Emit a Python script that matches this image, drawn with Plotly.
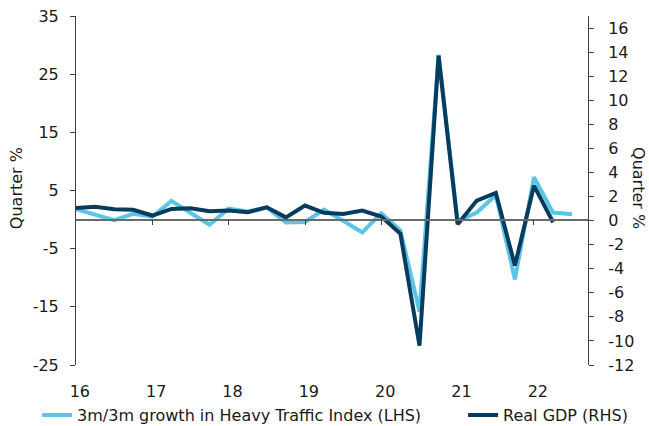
import plotly.graph_objects as go

# quarter index (one point per quarter, first point = start of "16")
quarter_index = list(range(27))

# 3m/3m growth in Heavy Traffic Index (LHS), %
traffic = [1.8, 0.9, -0.1, 1.0, 0.5, 3.2, 1.2, -0.9, 1.9, 1.4, 2.1, -0.5, -0.4,
           1.7, -0.2, -2.2, 1.1, -1.9, -15.8, 28.3, -0.3, 1.2, 4.2, -10.3, 7.3,
           1.2, 0.9]

# Real GDP q/q (RHS), %
gdp = [1.05, 1.15, 0.95, 0.9, 0.42, 0.97, 1.02, 0.77, 0.83, 0.7, 1.1, 0.27,
       1.25, 0.65, 0.55, 0.83, 0.33, -1.1, -10.4, 13.7, -0.3, 1.66, 2.3, -3.74,
       2.9, -0.14]

year_ticks = [0, 4, 8, 12, 16, 20, 24]
year_labels = ["16", "17", "18", "19", "20", "21", "22"]

left_ticks = [-25, -15, -5, 5, 15, 25, 35]
right_ticks = list(range(-12, 17, 2))

LIGHT = "#5BC5E8"
DARK = "#073C5F"
AX = "#404040"
FONT = "DejaVu Sans"
xrange = [0, 26.83]

fig = go.Figure()
fig.add_trace(go.Scatter(x=quarter_index[:len(traffic)], y=traffic, mode="lines",
                         name="3m/3m growth in Heavy Traffic Index (LHS)",
                         line=dict(color=LIGHT, width=4), xaxis="x", yaxis="y",
                         legend="legend"))
fig.add_trace(go.Scatter(x=quarter_index[:len(gdp)], y=gdp, mode="lines",
                         name="Real GDP (RHS)",
                         line=dict(color=DARK, width=4), xaxis="x2", yaxis="y2",
                         legend="legend2"))

legend_common = dict(orientation="h", xanchor="left", y=-0.095, yanchor="top",
                     font=dict(size=16), itemwidth=30, tracegroupgap=0,
                     bgcolor="rgba(0,0,0,0)")

fig.update_layout(
    width=649, height=426,
    margin=dict(l=76, r=61, t=16, b=61, autoexpand=False),
    paper_bgcolor="white", plot_bgcolor="white",
    font=dict(family=FONT, size=16, color="#1a1a1a"),
    showlegend=True,
    legend=dict(x=-0.076, **legend_common),
    legend2=dict(x=0.756, **legend_common),
    xaxis=dict(range=xrange, anchor="free", position=25/60,
               showline=True, linecolor="#6a6a6a", linewidth=1.5,
               tickmode="array", tickvals=year_ticks[1:], ticks="outside",
               ticklen=5, tickcolor="#404040", tickwidth=1,
               showticklabels=False, showgrid=False, zeroline=False),
    xaxis2=dict(range=xrange, overlaying="x", anchor="y2", side="bottom",
                tickmode="array", tickvals=[t + 0.2 for t in year_ticks],
                ticktext=year_labels, ticks="", showline=False, showgrid=False,
                zeroline=False, ticklabelstandoff=15),
    yaxis=dict(range=[-25, 35], tickmode="array", tickvals=left_ticks,
               ticktext=[str(v) for v in left_ticks], anchor="x",
               showline=True, linecolor=AX, linewidth=1, ticks="outside",
               ticklen=5, tickcolor=AX, showgrid=False, zeroline=False,
               ticklabelstandoff=8),
    yaxis2=dict(range=[-12, 17], overlaying="y", side="right", anchor="x2",
                tickmode="array", tickvals=right_ticks,
                ticktext=[str(v) for v in right_ticks],
                showline=True, linecolor=AX, linewidth=1, ticks="outside",
                ticklen=5, tickcolor=AX, showgrid=False, zeroline=False,
                ticklabelstandoff=11),
    annotations=[
        dict(text="Quarter %", xref="paper", yref="paper", x=-0.117, y=0.507,
             xanchor="center", yanchor="middle",
             textangle=-90, showarrow=False, font=dict(size=16)),
        dict(text="Quarter %", xref="paper", yref="paper", x=1.0996, y=0.507,
             xanchor="center", yanchor="middle",
             textangle=90, showarrow=False, font=dict(size=16)),
    ],
)

fig.write_html("out.html", config={"displayModeBar": False},
               post_script="document.body.style.margin='0';"
                           "document.body.style.overflow='hidden';")
